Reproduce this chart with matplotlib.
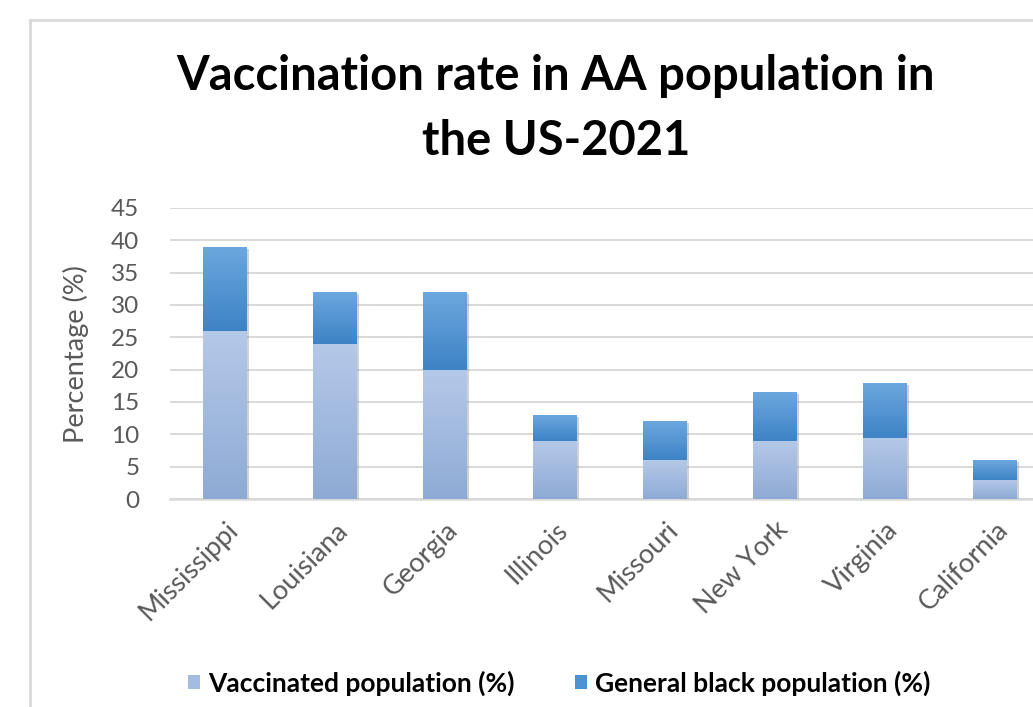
import numpy as np
import matplotlib
matplotlib.use('Agg')
import matplotlib.pyplot as plt
import matplotlib.patheffects as pe
from matplotlib.colors import LinearSegmentedColormap
from matplotlib.patches import Patch
from matplotlib.lines import Line2D

plt.rcParams['font.family'] = ['Lato', 'DejaVu Sans']

# data
states = ['Mississippi', 'Louisiana', 'Georgia', 'Illinois', 'Missouri', 'New York', 'Virginia', 'California']
vaccinated = [26, 24, 20, 9, 6, 9, 9.5, 3]
general_black = [13, 8, 12, 4, 6, 7.5, 8.5, 3]
yticks = [0, 5, 10, 15, 20, 25, 30, 35, 40, 45]

title_l1 = 'Vaccination rate in AA population in'
title_l2 = 'the US-2021'
leg_labels = ['Vaccinated population (%)', 'General black population (%)']

W, H = 1033, 707
fig = plt.figure(figsize=(W / 100, H / 100), dpi=100)
fig.patch.set_facecolor('white')

# chart frame (cropped excel chart box)
fig.add_artist(Line2D([29.5 / W, 29.5 / W], [0, 1 - 20 / H], transform=fig.transFigure,
                      color='#d9d9d9', lw=2))
fig.add_artist(Line2D([29.5 / W, 1], [1 - 20 / H, 1 - 20 / H], transform=fig.transFigure,
                      color='#d9d9d9', lw=2))

ax = fig.add_axes([170 / W, (H - 499) / H, 880 / W, 291 / H])
ax.set_facecolor('none')

x = np.arange(len(states))
grad = np.linspace(0, 1, 256).reshape(-1, 1)


def grad_bars(bars, c_top, c_bot):
    cmap = LinearSegmentedColormap.from_list('g', [c_bot, c_top])
    for b in bars:
        bx, by = b.get_x(), b.get_y()
        bw, bh = b.get_width(), b.get_height()
        im = ax.imshow(grad, cmap=cmap, extent=[bx, bx + bw, by, by + bh], origin='lower',
                       aspect='auto', zorder=3, interpolation='bicubic')
        im.set_clip_path(b)


shadow = [pe.SimplePatchShadow(offset=(1.5, -1.5), shadow_rgbFace='#7f7f7f', alpha=0.35), pe.Normal()]
b1 = ax.bar(x, vaccinated, width=0.4, color='#a3bce2', zorder=2, path_effects=shadow)
b2 = ax.bar(x, general_black, width=0.4, bottom=vaccinated, color='#5396d6', zorder=2,
            path_effects=shadow)
grad_bars(b1, '#b5c9e9', '#8eaad4')
grad_bars(b2, '#6ca7df', '#3d83c5')

ax.set_xlim(-0.5, len(states) - 0.5)
ax.set_ylim(0, 45)
ax.set_yticks(yticks)
ax.yaxis.grid(True, color='#d9d9d9', lw=1.4, zorder=0)
ax.set_axisbelow(True)
for s in ['top', 'right', 'left']:
    ax.spines[s].set_visible(False)
ax.spines['bottom'].set_color('#d9d9d9')
ax.spines['bottom'].set_linewidth(1.8)
ax.spines['bottom'].set_zorder(1)
ax.tick_params(axis='both', length=0, colors='#595959')
ax.tick_params(axis='y', labelsize=17.5, pad=22)
ax.set_xticks(x)
ax.set_xticklabels(states, rotation=45, ha='right', va='top', rotation_mode='anchor', fontsize=19.5)
ax.tick_params(axis='x', pad=13)

fig.text(76 / W, (H - 354) / H, 'Percentage (%)', rotation=90, ha='center', va='center',
         fontsize=19.5, color='#595959')

t1 = fig.text(556 / W, (H - 90) / H, title_l1, ha='center', va='baseline', fontsize=28,
              fontweight='bold', color='black')
t2 = fig.text(556 / W, (H - 155) / H, title_l2, ha='center', va='baseline', fontsize=28,
              fontweight='bold', color='black')
fig.canvas.draw()
r = fig.canvas.get_renderer()
sz = 28 * 757 / t1.get_window_extent(r).width
t1.set_fontsize(sz)
t2.set_fontsize(sz)

handles = [Patch(facecolor='#a3bce2'), Patch(facecolor='#4d92d3')]
fig.legend(handles, leg_labels, loc='center', bbox_to_anchor=(559 / W, 1 - 683 / H), ncol=2,
           frameon=False, handlelength=0.45, handleheight=0.45, handletextpad=0.3,
           columnspacing=2.3, prop={'weight': 'bold', 'size': 19})

fig.savefig('out.png', dpi=100)
